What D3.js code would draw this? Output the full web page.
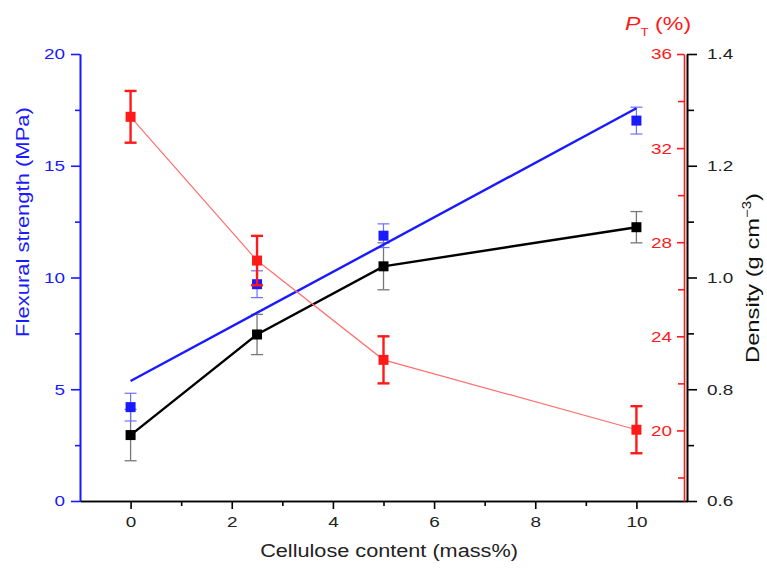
<!DOCTYPE html>
<html>
<head>
<meta charset="utf-8">
<script src="https://cdn.jsdelivr.net/npm/d3@7"></script>
<style>
  html, body { margin: 0; padding: 0; background: #fff; }
  svg { display: block; font-family: "Liberation Sans", Arial, sans-serif; }
</style>
</head>
<body>
<svg id="chart" width="767" height="571"></svg>
<script>
// Cellulose content (mass%) of each sample
const cellulose = [0, 2.5, 5, 10];

// Flexural strength (MPa) with standard deviation
const flexural = [4.2, 9.7, 11.87, 17.02];
const flexuralErr = [0.62, 0.6, 0.53, 0.6];

// Linear fit of flexural strength: [cellulose, MPa] end points
const flexuralFit = [[0, 5.37], [10, 17.57]];

// Density (g cm^-3) with standard deviation
const density = [0.718, 0.898, 1.02, 1.09];
const densityErr = [0.046, 0.036, 0.042, 0.028];

// Total porosity P_T (%) with standard deviation
const porosity = [33.33, 27.22, 23.0, 20.03];
const porosityErr = [1.1, 1.05, 1.0, 1.0];

// Axis ticks
const xTicks = [0, 2, 4, 6, 8, 10];
const xMinor = [1, 3, 5, 7, 9];
const flexTicks = [0, 5, 10, 15, 20];
const flexMinor = [2.5, 7.5, 12.5, 17.5];
const poroTicks = [20, 24, 28, 32, 36];
const poroMinor = [18, 22, 26, 30, 34];
const densTicks = [0.6, 0.8, 1.0, 1.2, 1.4];
const densMinor = [0.7, 0.9, 1.1, 1.3];

const BLUE = "#1a1aff", RED = "#ff1a1a", BLACK = "#000";
const plotL = 80, plotR = 687, plotT = 54, plotB = 501;
const redAxisX = 684;
const WIDE = 1.22;   // horizontal stretch of the label typeface

const svg = d3.select("#chart");

const x = d3.scaleLinear().domain([-1, 11]).range([plotL, plotR]);
const yFlex = d3.scaleLinear().domain([0, 20]).range([plotB, plotT]);
const yPoro = d3.scaleLinear().domain([17, 36]).range([plotB, plotT]);
const yDens = d3.scaleLinear().domain([0.6, 1.4]).range([plotB, plotT]);

function styleAxis(g, color, size) {
  g.attr("font-family", null);
  g.select(".domain").attr("stroke", color).attr("stroke-width", 1.6);
  g.selectAll(".tick line").attr("stroke", color).attr("stroke-width", 1.6);
  g.selectAll(".tick text")
    .attr("fill", color)
    .style("font-size", size + "px")
    .each(function () {
      const t = d3.select(this);
      const x0 = +t.attr("x") || 0;
      t.attr("x", x0 / WIDE).attr("transform", `scale(${WIDE},1)`);
    });
}

// Bottom axis: minor ticks then major ticks with labels
const gxMinor = svg.append("g").attr("transform", `translate(0,${plotB})`)
  .call(d3.axisBottom(x).tickValues(xMinor).tickSize(5).tickFormat("").tickSizeOuter(0));
styleAxis(gxMinor, BLACK, 14);
const gx = svg.append("g").attr("transform", `translate(0,${plotB})`)
  .call(d3.axisBottom(x).tickValues(xTicks).tickSize(8).tickPadding(7).tickSizeOuter(0).tickFormat(d3.format("d")));
styleAxis(gx, "#222", 15.5);
gx.select(".domain").attr("stroke", BLACK);
gx.selectAll(".tick line").attr("stroke", BLACK);

// Left axis: flexural strength
const gyMinor = svg.append("g").attr("transform", `translate(${plotL},0)`)
  .call(d3.axisLeft(yFlex).tickValues(flexMinor).tickSize(5).tickFormat("").tickSizeOuter(0));
styleAxis(gyMinor, BLUE, 14);
const gy = svg.append("g").attr("transform", `translate(${plotL},0)`)
  .call(d3.axisLeft(yFlex).tickValues(flexTicks).tickSize(9).tickPadding(6).tickSizeOuter(0));
styleAxis(gy, BLUE, 15.5);

// Red porosity axis, ticks pointing inward
const gpMinor = svg.append("g").attr("transform", `translate(${redAxisX},0)`)
  .call(d3.axisLeft(yPoro).tickValues(poroMinor).tickSize(6).tickFormat("").tickSizeOuter(0));
styleAxis(gpMinor, RED, 14);
const gp = svg.append("g").attr("transform", `translate(${redAxisX},0)`)
  .call(d3.axisLeft(yPoro).tickValues(poroTicks).tickSize(7).tickPadding(5).tickSizeOuter(0));
styleAxis(gp, RED, 15.5);
gp.select(".domain").attr("stroke-width", 1.3);
gpMinor.select(".domain").attr("stroke-width", 1.3);

// Right density axis
const gdMinor = svg.append("g").attr("transform", `translate(${plotR},0)`)
  .call(d3.axisRight(yDens).tickValues(densMinor).tickSize(7).tickFormat("").tickSizeOuter(0));
styleAxis(gdMinor, BLACK, 14);
const gd = svg.append("g").attr("transform", `translate(${plotR},0)`)
  .call(d3.axisRight(yDens).tickValues(densTicks).tickSize(10).tickPadding(10).tickSizeOuter(0).tickFormat(d3.format(".1f")));
styleAxis(gd, "#222", 15.5);
gd.select(".domain").attr("stroke", BLACK);
gd.selectAll(".tick line").attr("stroke", BLACK);

// Stretch a title along its own direction to a given run length
function fitLength(sel, len) {
  const w = sel.node().getBBox().width;
  const base = sel.attr("transform") || "";
  sel.attr("transform", `${base} scale(${len / w},1)`);
}

// Axis titles
const ft = svg.append("text")
  .attr("transform", `translate(29,222) rotate(-90)`)
  .attr("text-anchor", "middle")
  .attr("fill", BLUE).style("font-size", "19px")
  .text("Flexural strength (MPa)");
fitLength(ft, 230);

const dt = svg.append("text")
  .attr("transform", `translate(759,278) rotate(-90)`)
  .attr("text-anchor", "middle")
  .attr("fill", "#111").style("font-size", "19px");
dt.append("tspan").text("Density (g cm");
dt.append("tspan").attr("dy", -8).style("font-size", "12px").text("\u22123");
dt.append("tspan").attr("dy", 8).text(")");
fitLength(dt, 170);

const xt = svg.append("text")
  .attr("transform", `translate(389,557)`)
  .attr("text-anchor", "middle")
  .attr("fill", "#222").style("font-size", "18.5px")
  .text("Cellulose content (mass%)");
fitLength(xt, 258);

const pt = svg.append("text")
  .attr("transform", `translate(625,30) scale(${WIDE},1)`)
  .attr("fill", RED).style("font-size", "19px");
pt.append("tspan").style("font-style", "italic").text("P");
pt.append("tspan").attr("dy", 6).style("font-size", "11px").text("T");
pt.append("tspan").attr("dy", -6).text(" (%)");

// Error bar helper
function errorBars(vals, errs, yScale, color, width, cap) {
  const g = svg.append("g").attr("stroke", color).attr("stroke-width", width).attr("fill", "none");
  cellulose.forEach((c, i) => {
    const cx = x(c), y1 = yScale(vals[i] + errs[i]), y2 = yScale(vals[i] - errs[i]);
    g.append("line").attr("x1", cx).attr("x2", cx).attr("y1", y1).attr("y2", y2);
    g.append("line").attr("x1", cx - cap).attr("x2", cx + cap).attr("y1", y1).attr("y2", y1);
    g.append("line").attr("x1", cx - cap).attr("x2", cx + cap).attr("y1", y2).attr("y2", y2);
  });
}
function squares(vals, yScale, color, size) {
  svg.append("g").selectAll("rect").data(vals).join("rect")
    .attr("x", (d, i) => x(cellulose[i]) - size / 2)
    .attr("y", d => yScale(d) - size / 2)
    .attr("width", size).attr("height", size)
    .attr("fill", color);
}

const line = d3.line();

// Density series (black)
errorBars(density, densityErr, yDens, "#777", 1.3, 6);
svg.append("path")
  .attr("d", line(cellulose.map((c, i) => [x(c), yDens(density[i])])))
  .attr("fill", "none").attr("stroke", BLACK).attr("stroke-width", 2.4);
squares(density, yDens, BLACK, 10);

// Flexural strength (blue) with linear fit
errorBars(flexural, flexuralErr, yFlex, "#6f6fff", 1.2, 6);
squares(flexural, yFlex, BLUE, 10);
svg.append("path")
  .attr("d", line(flexuralFit.map(p => [x(p[0]), yFlex(p[1])])))
  .attr("fill", "none").attr("stroke", BLUE).attr("stroke-width", 2.4);

// Porosity (red)
svg.append("path")
  .attr("d", line(cellulose.map((c, i) => [x(c), yPoro(porosity[i])])))
  .attr("fill", "none").attr("stroke", "#ff7070").attr("stroke-width", 1.2);
errorBars(porosity, porosityErr, yPoro, RED, 2.4, 6);
squares(porosity, yPoro, RED, 10);
</script>
</body>
</html>
